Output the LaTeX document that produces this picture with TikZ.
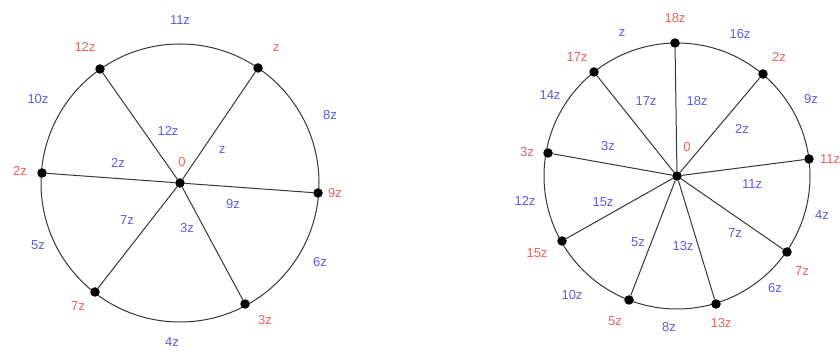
\documentclass[tikz,border=0pt]{standalone}
\usepackage{fontspec}
\setmainfont{Liberation Sans}
\definecolor{ptred}{RGB}{236,96,96}
\definecolor{segblue}{RGB}{92,92,226}
\definecolor{wire}{RGB}{55,55,55}

\begin{document}
\begin{tikzpicture}[x=1pt,y=-1pt,
    vtx/.style={circle,fill=black,inner sep=0pt,minimum size=9.5pt},
    rim/.style={draw=wire,line width=1pt},
    spoke/.style={draw=wire,line width=1pt},
    ptlab/.style={text=ptred,font=\fontsize{13}{15}\selectfont,inner sep=0pt},
    seglab/.style={text=segblue,font=\fontsize{13}{15}\selectfont,inner sep=0pt}
]
\clip (0,0) rectangle (840,352);

% left wheel
\draw[rim] (180,183) circle[radius=139pt];
\node[vtx] (hubA) at (180,183) {};
\node[vtx] (a1) at (258,68) {};
\node[vtx] (a12) at (100,69) {};
\node[vtx] (a2) at (42,173) {};
\node[vtx] (a7) at (95,292) {};
\node[vtx] (a3) at (245,304) {};
\node[vtx] (a9) at (318,193) {};
\draw[spoke] (hubA) -- (a1);
\draw[spoke] (hubA) -- (a12);
\draw[spoke] (hubA) -- (a2);
\draw[spoke] (hubA) -- (a7);
\draw[spoke] (hubA) -- (a3);
\draw[spoke] (hubA) -- (a9);

\node[ptlab] (pA0) at (182,162) {0};
\node[ptlab] (pA1) at (276,48) {z};
\node[ptlab] (pA12) at (85,47) {12z};
\node[ptlab] (pA2) at (20,171) {2z};
\node[ptlab] (pA7) at (78,306) {7z};
\node[ptlab] (pA3) at (265,320) {3z};
\node[ptlab] (pA9) at (335,193) {9z};

\node[seglab] (sA11) at (180,20) {11z};
\node[seglab] (sA10) at (38,99) {10z};
\node[seglab] (sA8) at (330,115) {8z};
\node[seglab] (sA12) at (168,131) {12z};
\node[seglab] (sA1) at (222,150) {z};
\node[seglab] (sA2) at (118,163) {2z};
\node[seglab] (sA9) at (233,204) {9z};
\node[seglab] (sA7) at (127,220) {7z};
\node[seglab] (sA3) at (187,228) {3z};
\node[seglab] (sA5) at (38,245) {5z};
\node[seglab] (sA6) at (320,262) {6z};
\node[seglab] (sA4) at (172,342) {4z};

% right wheel
\draw[rim] (677,176) circle[radius=133pt];
\node[vtx] (hubB) at (677,176) {};
\node[vtx] (b18) at (675,43) {};
\node[vtx] (b17) at (594,72) {};
\node[vtx] (b2) at (763,74) {};
\node[vtx] (b3) at (548,153) {};
\node[vtx] (b11) at (809,159) {};
\node[vtx] (b15) at (562,241) {};
\node[vtx] (b5) at (629,300) {};
\node[vtx] (b13) at (716,304) {};
\node[vtx] (b7) at (787,252) {};
\draw[spoke] (hubB) -- (b18);
\draw[spoke] (hubB) -- (b17);
\draw[spoke] (hubB) -- (b2);
\draw[spoke] (hubB) -- (b3);
\draw[spoke] (hubB) -- (b11);
\draw[spoke] (hubB) -- (b15);
\draw[spoke] (hubB) -- (b5);
\draw[spoke] (hubB) -- (b13);
\draw[spoke] (hubB) -- (b7);

\node[ptlab] (pB0) at (687,147) {0};
\node[ptlab] (pB18) at (675,18) {18z};
\node[ptlab] (pB17) at (577,57) {17z};
\node[ptlab] (pB2) at (779,57) {2z};
\node[ptlab] (pB3) at (527,152) {3z};
\node[ptlab,anchor=west] (pB11) at (820,159) {11z};
\node[ptlab] (pB15) at (537,253) {15z};
\node[ptlab] (pB7) at (802,271) {7z};
\node[ptlab] (pB5) at (615,321) {5z};
\node[ptlab] (pB13) at (721,323) {13z};

\node[seglab] (sB1) at (622,33) {z};
\node[seglab] (sB16) at (740,34) {16z};
\node[seglab] (sB14) at (550,95) {14z};
\node[seglab] (sB9) at (811,99) {9z};
\node[seglab] (sB17) at (646,101) {17z};
\node[seglab] (sB18) at (697,101) {18z};
\node[seglab] (sB2) at (742,129) {2z};
\node[seglab] (sB3) at (608,146) {3z};
\node[seglab] (sB11) at (752,184) {11z};
\node[seglab] (sB12) at (525,201) {12z};
\node[seglab] (sB15) at (603,202) {15z};
\node[seglab] (sB4) at (822,215) {4z};
\node[seglab] (sB7) at (735,233) {7z};
\node[seglab] (sB5) at (638,242) {5z};
\node[seglab] (sB13) at (683,246) {13z};
\node[seglab] (sB6) at (775,288) {6z};
\node[seglab] (sB10) at (572,295) {10z};
\node[seglab] (sB8) at (669,327) {8z};
\end{tikzpicture}
\end{document}
